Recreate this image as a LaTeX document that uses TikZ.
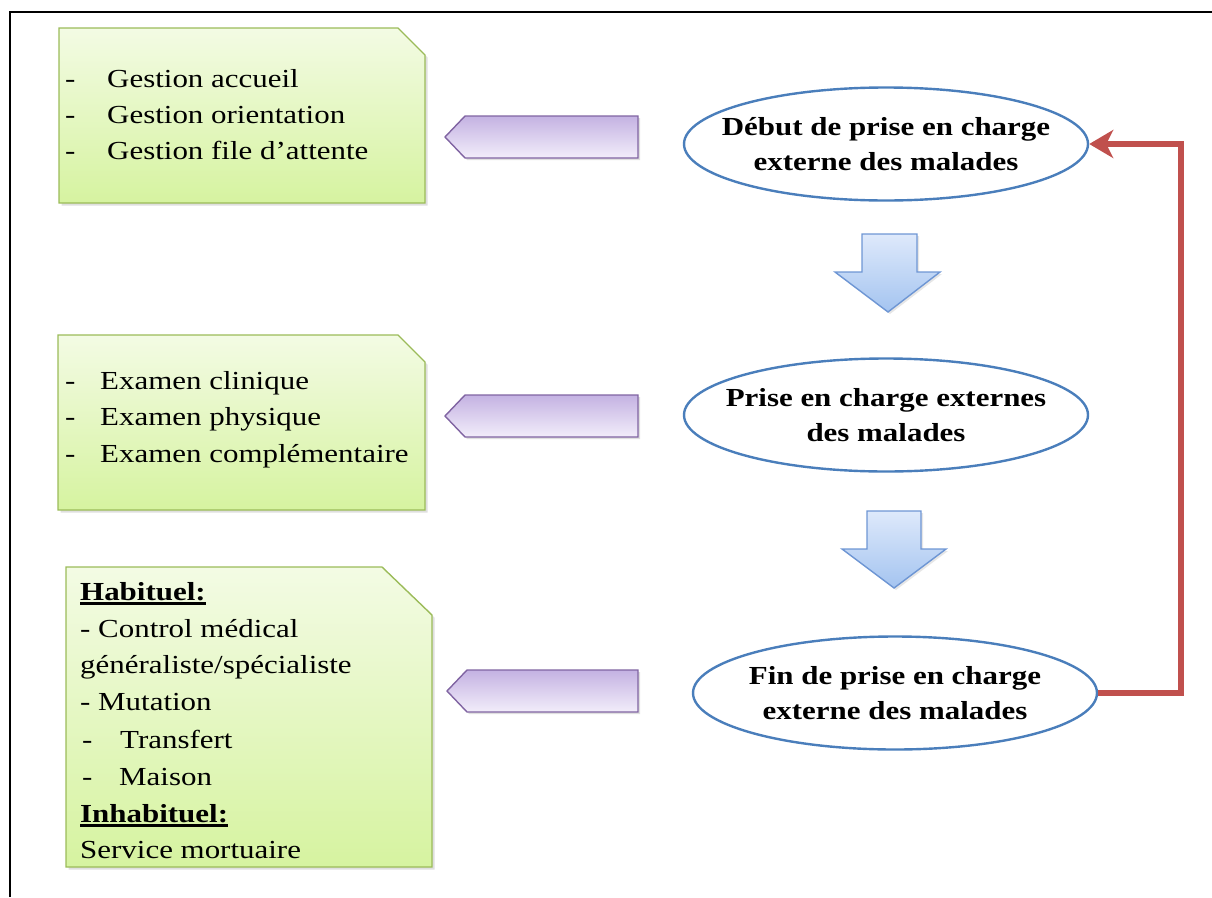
\documentclass[tikz,border=0pt]{standalone}
\usepackage{fontspec}
\setmainfont{Liberation Serif}[FakeStretch=1.19]
\usetikzlibrary{arrows.meta,shapes.geometric,shadows}

\definecolor{noteline}{RGB}{155,187,89}
\definecolor{notetop}{RGB}{243,251,228}
\definecolor{notebot}{RGB}{214,243,160}
\definecolor{purpline}{RGB}{128,100,162}
\definecolor{purptop}{RGB}{196,178,226}
\definecolor{purpbot}{RGB}{242,237,250}
\definecolor{blueline}{RGB}{110,150,212}
\definecolor{bluetop}{RGB}{222,233,251}
\definecolor{bluebot}{RGB}{164,196,240}
\definecolor{ellline}{RGB}{74,126,187}
\definecolor{loopred}{RGB}{192,80,77}

% bold word with a heavy underline
\newcommand\ulbold[1]{\setbox0\hbox{\textbf{#1}}\rlap{\rule[-4.5pt]{\wd0}{2.4pt}}\box0}
% dash followed by a tab-like gap
\newcommand\dashgap[1]{\makebox[#1][l]{-}}

\tikzset{
  notebox/.style={draw=noteline, line width=1.4pt, top color=notetop, bottom color=notebot,
    drop shadow={opacity=0.25, shadow xshift=2.5pt, shadow yshift=-2.5pt}},
  purparrow/.style={draw=purpline, line width=1.4pt, top color=purptop, bottom color=purpbot,
    drop shadow={opacity=0.25, shadow xshift=2pt, shadow yshift=-2pt}},
  bluearrow/.style={draw=blueline, line width=1.4pt, top color=bluetop, bottom color=bluebot,
    drop shadow={opacity=0.2, shadow xshift=2pt, shadow yshift=-2pt}},
  stage/.style={ellipse, draw=ellline, line width=2.4pt, fill=white, inner sep=0pt,
    minimum width=404pt, minimum height=113pt},
  stagetext/.style={inner sep=0pt, align=center,
    font=\fontsize{26}{35}\selectfont\bfseries},
  line/.style={anchor=base west, inner sep=0pt, font=\fontsize{26}{31}\selectfont},
  loop/.style={draw=loopred, line width=6pt, miter limit=10,
    -{Stealth[length=24pt, width=28pt, inset=7pt]}}
}

\begin{document}
\begin{tikzpicture}[x=1pt, y=-1pt]
\useasboundingbox (0,0) rectangle (1212,897);

% frame
\draw[line width=2.2pt] (10,897) -- (10,12) -- (1212,12);

% green note boxes with a snipped corner
\path[notebox] (59,28) -- (398,28) -- (425,55) -- (425,203) -- (59,203) -- cycle;
\path[notebox] (58,335) -- (398,335) -- (425,362) -- (425,510) -- (58,510) -- cycle;
\path[notebox] (66,567) -- (382,567) -- (432,615) -- (432,867) -- (66,867) -- cycle;

% purple pointers towards the notes
\path[purparrow] (445,137) -- (465,116) -- (638,116) -- (638,158) -- (465,158) -- cycle;
\path[purparrow] (445,416) -- (465,395) -- (638,395) -- (638,437) -- (465,437) -- cycle;
\path[purparrow] (447,691) -- (467,670) -- (638,670) -- (638,712) -- (467,712) -- cycle;

% blue block arrows between stages
\path[bluearrow] (862,234) -- (917,234) -- (917,272) -- (940,272) -- (888,312)
  -- (835,272) -- (862,272) -- cycle;
\path[bluearrow] (867,511) -- (921,511) -- (921,549) -- (946,549) -- (894,588)
  -- (842,549) -- (867,549) -- cycle;

% stages
\node[stage] (start) at (886,144) {};
\node[stage] (care)  at (886,415) {};
\node[stage] (end)   at (895,693) {};
\node[stagetext] (starttext) at (start) {Début de prise en charge\\externe des malades};
\node[stagetext] (caretext)  at (care)  {Prise en charge externes\\des malades};
\node[stagetext] (endtext)   at (end)   {Fin de prise en charge\\externe des malades};

% loop back from the last stage to the first
\coordinate (corner) at (1181,144);
\draw[loop] (end.east) -| (corner) -- (start.east);

% note texts
\node[line] (a1) at (65,87)  {\dashgap{42pt}Gestion accueil};
\node[line] (a2) at (65,123) {\dashgap{42pt}Gestion orientation};
\node[line] (a3) at (65,159) {\dashgap{42pt}Gestion file d’attente};

\node[line] (b1) at (65,389) {\dashgap{35pt}Examen clinique};
\node[line] (b2) at (65,425) {\dashgap{35pt}Examen physique};
\node[line] (b3) at (65,462) {\dashgap{35pt}Examen complémentaire};

\node[line] (c1) at (80,600) {\ulbold{Habituel:}};
\node[line] (c2) at (80,637) {- Control médical};
\node[line] (c3) at (80,673) {généraliste/spécialiste};
\node[line] (c4) at (80,710) {- Mutation};
\node[line] (c5) at (82,748) {\dashgap{38pt}Transfert};
\node[line] (c6) at (82,785) {\dashgap{37pt}Maison};
\node[line] (c7) at (80,822) {\ulbold{Inhabituel:}};
\node[line] (c8) at (80,858) {Service mortuaire};
\end{tikzpicture}
\end{document}
